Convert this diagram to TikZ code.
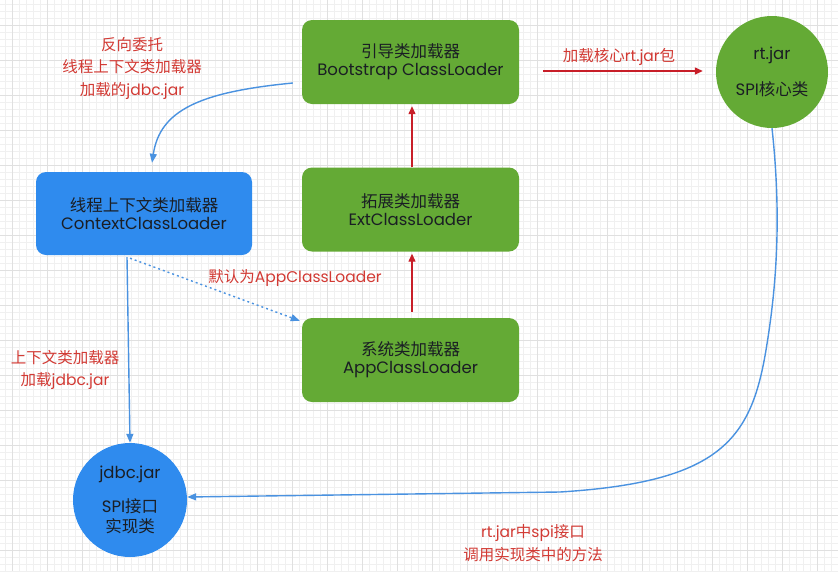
\documentclass[tikz,border=0pt]{standalone}
\usepackage{fontspec}
\setmainfont{Poppins}
\newfontfamily\cjk{Noto Sans CJK SC}
\usetikzlibrary{arrows.meta}
\definecolor{boxgreen}{HTML}{64AA35}
\definecolor{boxblue}{HTML}{2F8BEE}
\definecolor{linkblue}{HTML}{4A92E0}
\definecolor{labelred}{HTML}{D23A34}
\definecolor{arrowred}{HTML}{C81E28}
\definecolor{gridminor}{HTML}{F0F0F0}
\definecolor{gridmajor}{HTML}{E0E0E0}
\definecolor{inktext}{HTML}{1A1E24}
\newcommand\zh[1]{{\cjk #1}}
\begin{document}
\begin{tikzpicture}[x=1pt,y=-1pt,
  loaderbox/.style={fill=boxgreen, rounded corners=10pt, minimum width=217pt, minimum height=84pt,
    align=center, text=inktext, font=\fontsize{16.5}{18}\selectfont, inner sep=0pt},
  ctxbox/.style={loaderbox, fill=boxblue, minimum width=216pt, minimum height=83pt},
  jarcircle/.style={circle, fill=boxgreen, minimum size=112pt, inner sep=0pt, align=center,
    text=inktext, font=\fontsize{16.5}{18}\selectfont},
  redlabel/.style={text=labelred, align=center, font=\fontsize{15.5}{22.5}\selectfont, inner sep=0pt},
  redarrow/.style={draw=arrowred, line width=1.3pt, -{Triangle[length=8pt,width=7pt]}},
  bluearrow/.style={draw=linkblue, line width=1.4pt, -{Triangle[length=9pt,width=7pt]}},
  gridminorline/.style={draw=gridminor, line width=0.5pt},
  gridmajorline/.style={draw=gridmajor, line width=0.7pt}]
\useasboundingbox (0,0) rectangle (838,571);
\fill[white] (0,0) rectangle (838,571);
% grid
\foreach \x in {5,12,...,838} \draw[gridminorline] (\x,0) -- (\x,571);
\foreach \y in {4,11,...,571} \draw[gridminorline] (0,\y) -- (838,\y);
\foreach \x in {12,47,...,838} \draw[gridmajorline] (\x,0) -- (\x,571);
\foreach \y in {25,60,...,571} \draw[gridmajorline] (0,\y) -- (838,\y);
% nodes
\node[loaderbox] (boot) at (410.5,62) {\zh{引导类加载器}\\Bootstrap ClassLoader};
\node[loaderbox] (ext) at (410.5,209.5) {\zh{拓展类加载器}\\ExtClassLoader};
\node[loaderbox] (app) at (410.5,360) {\zh{系统类加载器}\\AppClassLoader};
\node[ctxbox] (ctx) at (144,213.5) {\zh{线程上下文类加载器}\\ContextClassLoader};
\node[jarcircle] (rt) at (772,72) {rt.jar\\[17pt]SPI\zh{核心类}};
\node[jarcircle, fill=boxblue, minimum size=114pt] (jdbc) at (130,500) {jdbc.jar\\[15pt]SPI\zh{接口}\\[2pt]\zh{实现类}};
% labels
\node[redlabel] (lblrev) at (132,68) {\zh{反向委托}\\\zh{线程上下文类加载器}\\\zh{加载的}jdbc.jar};
\node[redlabel] (lblrt) at (619,57) {\zh{加载核心}rt.jar\zh{包}};
\node[redlabel] (lbldef) at (295,278) {\zh{默认为}AppClassLoader};
\node[redlabel] (lblctx) at (65,370) {\zh{上下文类加载器}\\\zh{加载}jdbc.jar};
\node[redlabel] (lblcall) at (533,543) {rt.jar\zh{中}spi\zh{接口}\\\zh{调用实现类中的方法}};
% connectors
\draw[redarrow, shorten <=24pt, shorten >=13pt] ([yshift=-9pt]boot.east) -- ([yshift=1pt]rt.west);
\draw[redarrow, shorten <=6pt, shorten >=2pt] ([xshift=1.5pt]app.north) -- ([xshift=1.5pt]ext.south);
\draw[redarrow, shorten >=2pt] ([xshift=1.5pt]ext.north) -- ([xshift=1.5pt]boot.south);
\draw[bluearrow] ([xshift=-9pt,yshift=-21pt]boot.west) .. controls (200,92) and (160,110) .. ([xshift=8pt,yshift=9pt]ctx.north);
\draw[bluearrow] ([xshift=-17pt,yshift=-2pt]ctx.south) -- (jdbc.north);
\draw[bluearrow, dash pattern=on 2pt off 3pt] ([xshift=-14pt,yshift=-3pt]ctx.south) -- ([xshift=-2pt,yshift=-3pt]app.north west);
\draw[bluearrow] (rt.south) .. controls (782,220) and (776,290) .. (766,350) .. controls (751,440) and (720,482) .. (560,492) -- ([yshift=3pt]jdbc.east);
\end{tikzpicture}
\end{document}
